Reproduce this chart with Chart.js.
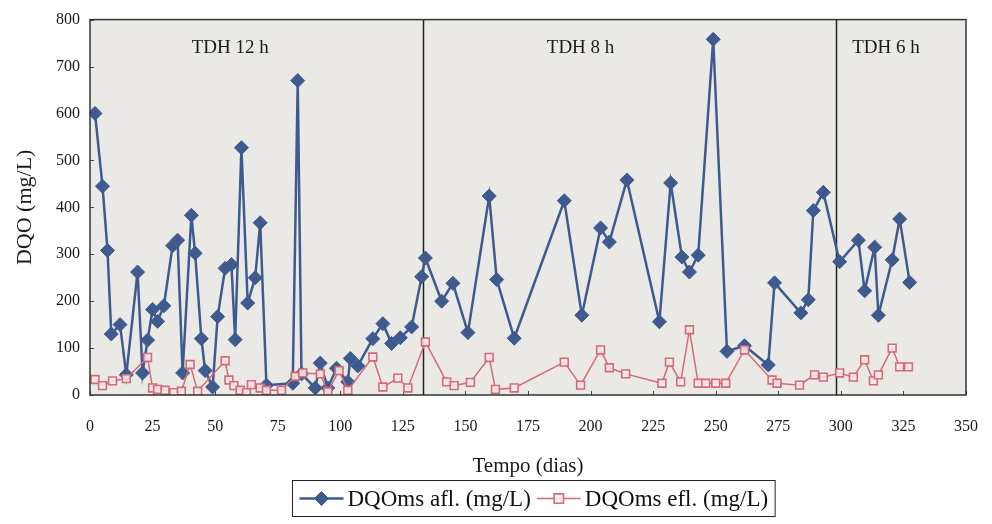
<!DOCTYPE html>
<html>
<head>
<meta charset="utf-8">
<script src="https://cdn.jsdelivr.net/npm/chart.js@4.4.1/dist/chart.umd.min.js"></script>
<style>
  html, body { margin: 0; padding: 0; background: #ffffff; }
  #wrap { width: 992px; height: 524px; position: relative; }
</style>
</head>
<body>
<div id="wrap"><canvas id="c" width="992" height="524"></canvas></div>
<script>
// ---- data ----
const seriesNames = ['DQOms afl. (mg/L)', 'DQOms efl. (mg/L)'];

const daysAfl = [2, 5, 7, 8.5, 12, 14.5, 19, 21, 23, 25, 27, 29.5, 33, 35, 37, 40.5, 42, 44.5, 46, 49,
  51, 54, 56.5, 58, 60.5, 63, 66, 68, 70.5, 81, 83, 84.5, 90, 92, 95, 98.5, 103, 104, 107, 113,
  117, 120.5, 124, 128.5, 132.5, 134, 140.5, 145, 151, 159.5, 162.5, 169.5, 189.5, 196.5, 204, 207.5, 214.5, 227.5, 232, 236.5,
  239.5, 243, 249, 254.5, 261.5, 271, 273.5, 284, 287, 289, 293, 299.5, 307, 309.5, 313.5, 315, 320.5, 323.5, 327.5];
const dqoAfl = [600, 445, 308, 130, 150, 43, 262, 47, 117, 182, 157, 190, 318, 330, 47, 383, 302, 120, 52, 17,
  167, 270, 278, 118, 527, 196, 250, 367, 21, 25, 670, 45, 15, 68, 15, 57, 28, 78, 62, 120,
  152, 110, 122, 145, 252, 292, 200, 238, 133, 424, 246, 121, 414, 170, 356, 326, 458, 156, 452, 294,
  262, 298, 758, 93, 105, 64, 239, 175, 203, 393, 432, 284, 330, 222, 315, 170, 288, 375, 240];

const daysEfl = [2, 5, 9, 14.5, 23, 25, 27, 30, 33.5, 36.5, 40, 43, 54, 55.5, 57.5, 60, 62.5, 64.5, 68, 70.5,
  76.5, 82, 85, 92, 95, 99.5, 103, 113, 117, 123, 127, 134, 142.5, 145.5, 152, 159.5, 162, 169.5, 189.5, 196,
  204, 207.5, 214, 228.5, 231.5, 236, 239.5, 243, 246, 250, 254, 261.5, 272.5, 274.5, 283.5, 289.5, 293, 299.5, 305, 309.5,
  313, 315, 320.5, 323.5, 327];
const dqoEfl = [33, 20, 30, 35, 80, 15, 12, 10, 5, 8, 65, 8, 73, 32, 20, 10, 5, 22, 15, 10,
  10, 40, 47, 45, 7, 52, 10, 81, 17, 36, 15, 113, 28, 20, 27, 80, 12, 15, 70, 21,
  96, 58, 45, 25, 70, 28, 139, 25, 25, 25, 25, 96, 32, 25, 21, 43, 38, 47, 38, 75,
  30, 43, 100, 60, 60];

const phaseBounds = [133, 298];
const phaseLabels = ['TDH 12 h', 'TDH 8 h', 'TDH 6 h'];

const xAxisTitle = 'Tempo (dias)';
const yAxisTitle = 'DQO (mg/L)';

// ---- styling ----
const FONT = "'Liberation Serif', 'DejaVu Serif', serif";
const BLUE = '#3e5a8f';
const RED = '#d46a77';

const toPts = (xs, ys) => xs.map((x, i) => ({ x: x, y: ys[i] }));

const phasePlugin = {
  id: 'phases',
  beforeDraw(chart) {
    const { ctx, chartArea: a } = chart;
    ctx.save();
    ctx.fillStyle = '#ebe9e5';
    ctx.fillRect(a.left, a.top, a.right - a.left, a.bottom - a.top);
    ctx.restore();
  },
  beforeDatasetsDraw(chart, args, opts) {
    const { ctx, chartArea: a, scales } = chart;
    const xs = scales.x;
    ctx.save();
    ctx.strokeStyle = '#222';
    ctx.lineWidth = 1.5;
    phaseBounds.forEach(d => {
      const px = Math.round(xs.getPixelForValue(d)) + 0.5;
      ctx.beginPath();
      ctx.moveTo(px, a.top);
      ctx.lineTo(px, a.bottom);
      ctx.stroke();
    });
    ctx.fillStyle = '#1a1a1a';
    ctx.font = '19px ' + FONT;
    ctx.textAlign = 'center';
    ctx.textBaseline = 'middle';
    phaseLabels.forEach((t, i) => {
      ctx.fillText(t, xs.getPixelForValue(opts.labelDays[i]), a.top + opts.labelOffset);
    });
    // inner tick marks
    ctx.strokeStyle = '#444';
    ctx.lineWidth = 1;
    scales.x.ticks.forEach(tk => {
      const px = Math.round(xs.getPixelForValue(tk.value)) + 0.5;
      ctx.beginPath(); ctx.moveTo(px, a.bottom); ctx.lineTo(px, a.bottom - 4); ctx.stroke();
    });
    scales.y.ticks.forEach(tk => {
      const py = Math.round(scales.y.getPixelForValue(tk.value)) + 0.5;
      ctx.beginPath(); ctx.moveTo(a.left, py); ctx.lineTo(a.left + 4, py); ctx.stroke();
    });
    ctx.restore();
  },
  afterDraw(chart, args, opts) {
    const { ctx, chartArea: a } = chart;
    ctx.save();
    ctx.strokeStyle = '#333';
    ctx.lineWidth = 1.5;
    ctx.strokeRect(a.left, a.top, a.right - a.left, a.bottom - a.top);

    // legend box (width from the measured texts)
    ctx.font = opts.legendFont + 'px ' + FONT;
    const sample = 44, gapT = 4, gapItem = 6, pad = 7;
    let boxW = pad * 2;
    chart.data.datasets.forEach((ds, i) => {
      boxW += sample + gapT + ctx.measureText(ds.label).width + (i ? 0 : gapItem);
    });
    const boxH = 36;
    const cx = (a.left + a.right) / 2 + opts.legendShift;
    const bx = Math.round(cx - boxW / 2) + 0.5, by = opts.legendTop + 0.5;
    ctx.fillStyle = '#ffffff';
    ctx.fillRect(bx, by, boxW, boxH);
    ctx.strokeStyle = '#222';
    ctx.lineWidth = 1;
    ctx.strokeRect(bx, by, boxW, boxH);
    ctx.textBaseline = 'middle';
    ctx.textAlign = 'left';
    const my = by + boxH / 2;
    let x = bx + pad;
    chart.data.datasets.forEach((ds, i) => {
      ctx.strokeStyle = ds.borderColor;
      ctx.lineWidth = ds.borderWidth;
      ctx.beginPath(); ctx.moveTo(x, my); ctx.lineTo(x + sample, my); ctx.stroke();
      const mx = x + sample / 2;
      ctx.lineWidth = ds.pointBorderWidth;
      ctx.strokeStyle = ds.pointBorderColor;
      ctx.fillStyle = ds.pointBackgroundColor;
      const r = ds.pointRadius;
      ctx.beginPath();
      if (ds.pointStyle === 'rectRot') {
        ctx.moveTo(mx, my - r); ctx.lineTo(mx + r, my); ctx.lineTo(mx, my + r); ctx.lineTo(mx - r, my); ctx.closePath();
      } else {
        const s = r * 0.85;
        ctx.rect(mx - s, my - s, 2 * s, 2 * s);
      }
      ctx.fill(); ctx.stroke();
      ctx.fillStyle = '#111';
      ctx.fillText(ds.label, x + sample + gapT, my + 1);
      x += sample + gapT + ctx.measureText(ds.label).width + gapItem;
    });
    ctx.restore();
  }
};

const LAYOUT = { left: 10, right: 26, top: 6, bottom: 41 };

new Chart(document.getElementById('c'), {
  type: 'scatter',
  data: {
    datasets: [
      {
        label: seriesNames[0],
        data: toPts(daysAfl, dqoAfl),
        showLine: true,
        borderColor: BLUE,
        borderWidth: 2.5,
        pointStyle: 'rectRot',
        pointRadius: 7,
        pointBackgroundColor: BLUE,
        pointBorderColor: BLUE,
        pointBorderWidth: 1,
        order: 1
      },
      {
        label: seriesNames[1],
        data: toPts(daysEfl, dqoEfl),
        showLine: true,
        borderColor: RED,
        borderWidth: 1.5,
        pointStyle: 'rect',
        pointRadius: 5.5,
        pointBackgroundColor: 'rgba(250,236,236,0.85)',
        pointBorderColor: RED,
        pointBorderWidth: 1.6,
        order: 0
      }
    ]
  },
  options: {
    responsive: false,
    animation: false,
    events: [],
    layout: { padding: LAYOUT },
    plugins: {
      legend: { display: false },
      tooltip: { enabled: false },
      phases: { labelDays: [56, 196, 318], labelOffset: 28, legendTop: 480, legendFont: 23, legendShift: 5 }
    },
    scales: {
      x: {
        type: 'linear', min: 0, max: 350,
        ticks: { stepSize: 25, color: '#1a1a1a', font: { family: FONT, size: 16 }, padding: 22, maxRotation: 0 },
        grid: { display: false, drawTicks: false },
        border: { display: false },
        title: { display: true, text: xAxisTitle, color: '#1a1a1a', font: { family: FONT, size: 21 }, padding: { top: 4, bottom: 4 } },
        afterFit(scale) {
          scale.height = 524 - 395 - LAYOUT.bottom;
          scale.paddingLeft = 0;
          scale.paddingRight = 0;
        }
      },
      y: {
        min: 0, max: 800,
        ticks: { stepSize: 100, color: '#1a1a1a', font: { family: FONT, size: 16 }, padding: 10 },
        grid: { display: false, drawTicks: false },
        border: { display: false },
        title: { display: true, text: yAxisTitle, color: '#1a1a1a', font: { family: FONT, size: 22 }, padding: { top: 2, bottom: 8 } },
        afterFit(scale) {
          scale.width = 90 - LAYOUT.left;
        }
      }
    }
  },
  plugins: [phasePlugin]
});
</script>
</body>
</html>
